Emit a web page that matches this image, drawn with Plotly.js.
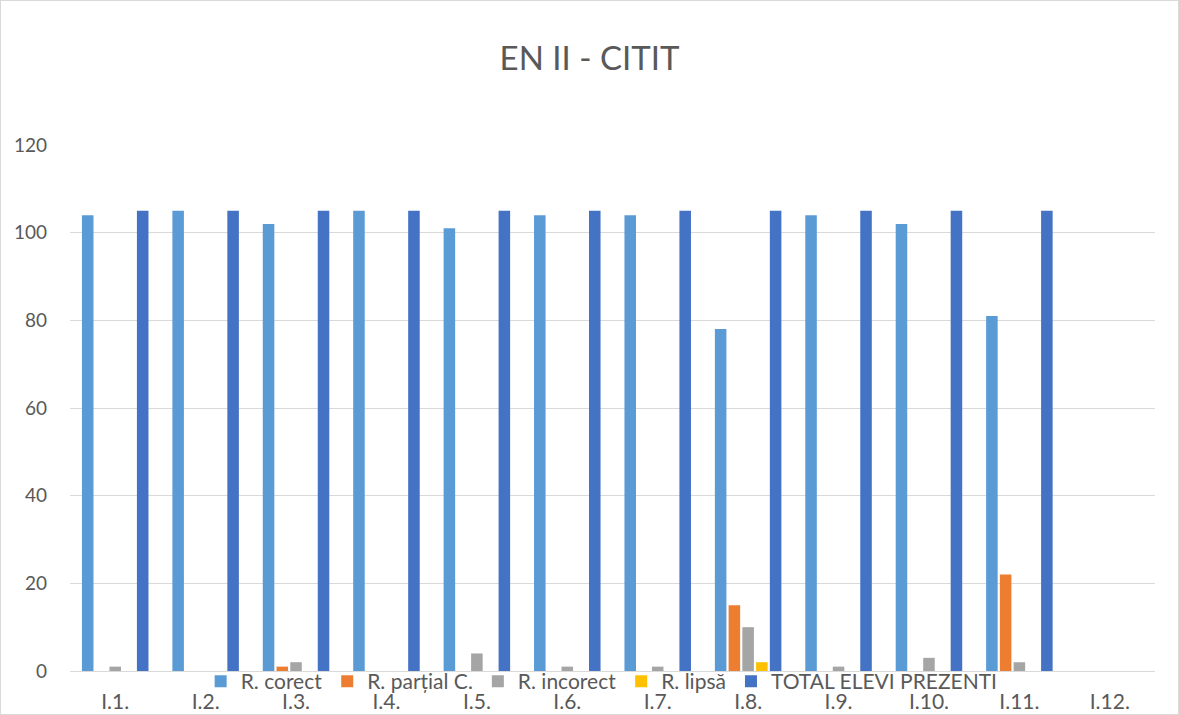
<!DOCTYPE html>
<html><head><meta charset="utf-8">
<script src="https://cdn.plot.ly/plotly-3.0.1.min.js"></script>
<style>html,body{margin:0;padding:0;background:#fff}#c{width:1177px;height:713px;border:1px solid #d9d9d9}</style>
</head><body><div id="c"></div>
<script>
const categories = ["I.1.","I.2.","I.3.","I.4.","I.5.","I.6.","I.7.","I.8.","I.9.","I.10.","I.11.","I.12."];
const corect   = [104,105,102,105,101,104,104,78,104,102,81,0];
const partial  = [0,0,1,0,0,0,0,15,0,0,22,0];
const incorect = [1,0,2,0,4,1,1,10,1,3,2,0];
const lipsa    = [0,0,0,0,0,0,0,2,0,0,0,0];
const total    = [105,105,105,105,105,105,105,105,105,105,105,0];
const names = ["R. corect","R. parțial C.","R. incorect","R. lipsă","TOTAL ELEVI PREZENTI"];
const colors = ["#5b9bd5","#ed7d31","#a5a5a5","#ffc000","#4472c4"];
const series = [corect, partial, incorect, lipsa, total];
const data = series.map((s,i)=>({type:'bar',x:categories,y:s,name:names[i],marker:{color:colors[i]}}));
const layout = {
  width:1177, height:713,
  font:{family:'Lato, "Open Sans", sans-serif', color:'#595959', size:18},
  title:{text:'EN II - CITIT', font:{size:33,color:'#595959'}, x:0.5, xanchor:'center', y:0.92, yanchor:'middle'},
  margin:{l:69,r:23,t:144,b:43},
  barmode:'group', bargap:0.24, bargroupgap:0.16,
  xaxis:{type:'category', showgrid:false, showline:true, linecolor:'#d9d9d9', linewidth:1, ticks:'', ticklabelstandoff:12, tickfont:{size:21,color:'#595959'}},
  yaxis:{range:[0,120], dtick:20, gridcolor:'#d9d9d9', zeroline:false, showline:false, ticks:'', ticklabelstandoff:22, tickfont:{size:19,color:'#595959'}},
  legend:{orientation:'h', x:0.49, xanchor:'center', y:-0.02, yanchor:'middle', font:{size:21,color:'#595959'}, bgcolor:'rgba(0,0,0,0)', itemwidth:30, tracegroupgap:0},
  showlegend:true,
  plot_bgcolor:'#fff', paper_bgcolor:'#fff'
};
Plotly.newPlot('c', data, layout, {displayModeBar:false});
</script></body></html>
